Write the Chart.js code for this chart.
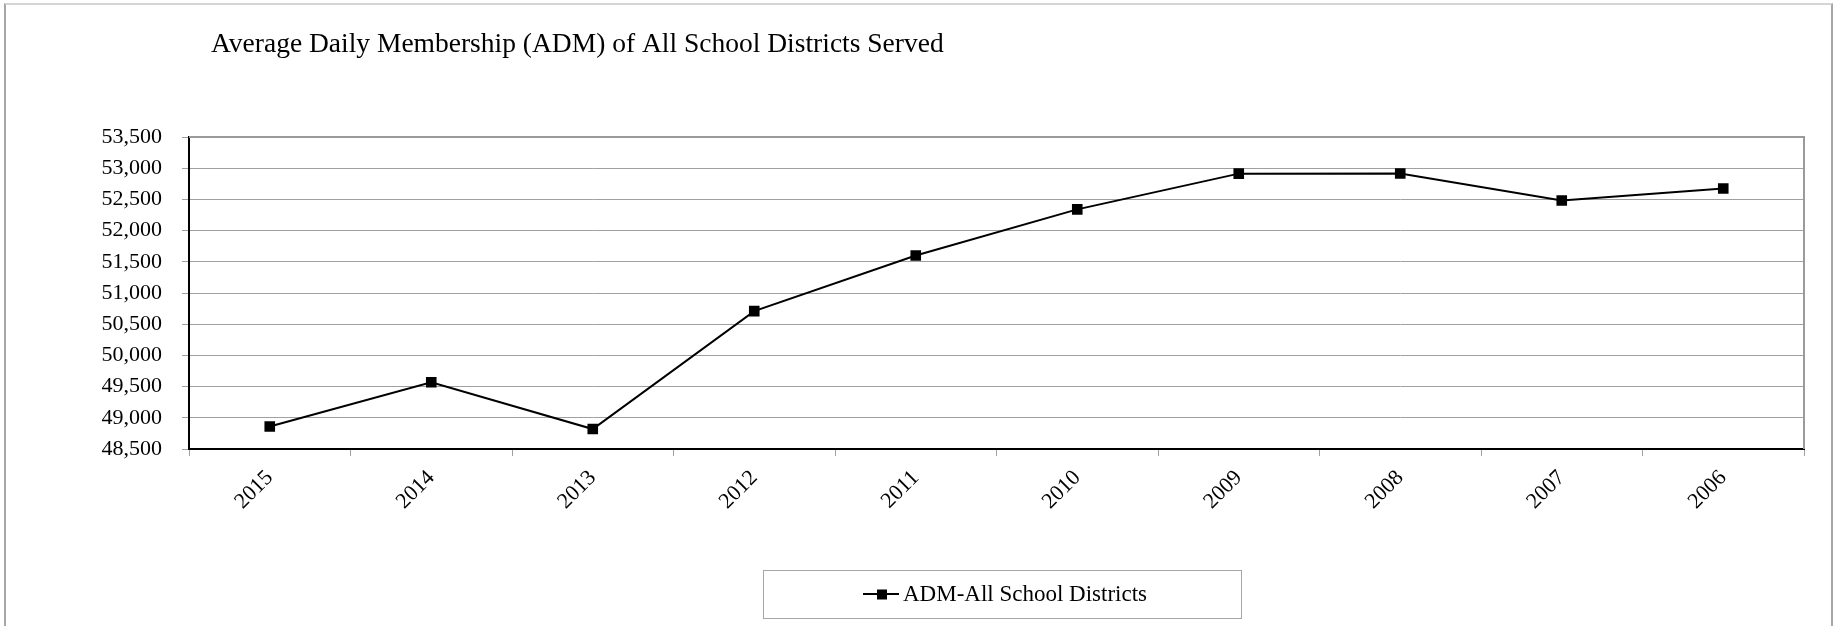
<!DOCTYPE html>
<html>
<head>
<meta charset="utf-8">
<script src="https://cdn.jsdelivr.net/npm/chart.js@4/dist/chart.umd.min.js"></script>
<style>
  body { margin: 0; background: #fff; }
  #wrap { position: relative; width: 1837px; height: 626px; overflow: hidden; }
  #marco { position: absolute; left: 4px; top: 3px; width: 1825px; height: 700px;
           border-top: 2px solid #d4d4d4; border-left: 2px solid #a6a6a6; border-right: 2px solid #a6a6a6; }
  canvas { position: absolute; left: 0; top: 0; }
</style>
</head>
<body>
<div id="wrap">
  <div id="marco"></div>
  <canvas id="grafica" width="1837" height="626"></canvas>
</div>
<script>
// Datos de la grafica
const titulo = 'Average Daily Membership (ADM) of All School Districts Served';
const anios = ['2015', '2014', '2013', '2012', '2011', '2010', '2009', '2008', '2007', '2006'];
const adm = [48860, 49570, 48820, 50710, 51600, 52340, 52913, 52915, 52483, 52675];
const serie = 'ADM-All School Districts';
const yMin = 48500;
const yMax = 53500;
const yPaso = 500;

const fuente = '"Liberation Serif", "Times New Roman", serif';

// Plugin para el titulo, el borde del area y la leyenda con caja
const extras = {
    id: 'extras',
    beforeDatasetsDraw(chart) {
        const { ctx, chartArea: a } = chart;
        ctx.save();
        ctx.strokeStyle = '#9a9a9a';
        ctx.lineWidth = 2;
        ctx.beginPath();
        ctx.moveTo(a.left, a.top);
        ctx.lineTo(a.right, a.top);
        ctx.lineTo(a.right, a.bottom);
        ctx.stroke();
        ctx.restore();
    },
    afterDraw(chart) {
        const ctx = chart.ctx;
        ctx.save();
        // titulo
        ctx.fillStyle = '#000';
        ctx.font = '27.5px ' + fuente;
        ctx.textBaseline = 'alphabetic';
        ctx.textAlign = 'left';
        ctx.fillText(titulo, 211, 52);

        // leyenda
        ctx.strokeStyle = '#a6a6a6';
        ctx.lineWidth = 1;
        ctx.strokeRect(763.5, 570.5, 478, 48);
        const ds = chart.data.datasets[0];
        ctx.strokeStyle = ds.borderColor;
        ctx.lineWidth = 2;
        ctx.beginPath();
        ctx.moveTo(863, 594);
        ctx.lineTo(899, 594);
        ctx.stroke();
        ctx.fillStyle = ds.pointBackgroundColor;
        ctx.fillRect(877, 589.5, 10, 10);
        ctx.fillStyle = '#000';
        ctx.font = '23px ' + fuente;
        ctx.textBaseline = 'middle';
        ctx.fillText(ds.label, 903, 595);
        ctx.restore();
    }
};

let canvas = document.getElementById('grafica');

new Chart(canvas, {
    type: 'line',
    data: {
        labels: anios,
        datasets: [{
            label: serie,
            data: adm,
            borderColor: '#000',
            borderWidth: 2,
            pointStyle: 'rect',
            pointRadius: 7.5,
            pointBackgroundColor: '#000',
            pointBorderColor: '#000',
            pointBorderWidth: 0,
            tension: 0,
            fill: false
        }]
    },
    options: {
        responsive: false,
        animation: false,
        events: [],
        layout: { padding: { top: 137, right: 33, bottom: 0, left: 0 } },
        scales: {
            x: {
                offset: true,
                afterFit: (s) => { s.height = 177; },
                grid: {
                    offset: true,
                    drawOnChartArea: false,
                    drawTicks: true,
                    tickLength: 7,
                    tickColor: '#a0a0a0'
                },
                border: { color: '#000', width: 2 },
                ticks: {
                    color: '#000',
                    font: { family: fuente, size: 22 },
                    minRotation: 45,
                    maxRotation: 45,
                    padding: 9,
                    autoSkip: false
                }
            },
            y: {
                min: yMin,
                max: yMax,
                afterFit: (s) => { s.width = 189; },
                grid: {
                    color: '#a0a0a0',
                    lineWidth: 1,
                    tickLength: 7,
                    tickColor: '#a0a0a0'
                },
                border: { color: '#000', width: 2 },
                ticks: {
                    stepSize: yPaso,
                    color: '#000',
                    font: { family: fuente, size: 22 },
                    padding: 20,
                    callback: (v) => v.toLocaleString('en-US')
                }
            }
        },
        plugins: {
            legend: { display: false },
            title: { display: false },
            tooltip: { enabled: false }
        }
    },
    plugins: [extras]
});
</script>
</body>
</html>
